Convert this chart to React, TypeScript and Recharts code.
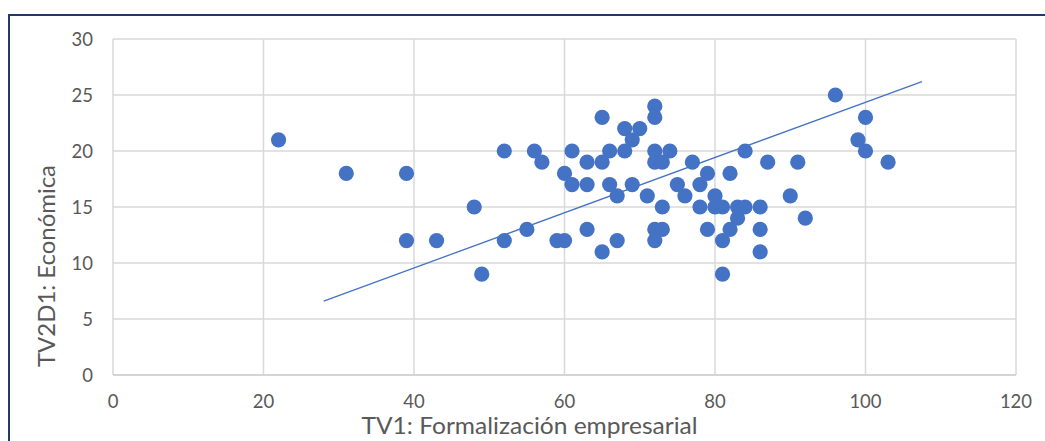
import React from 'react';
import { ScatterChart, Scatter, XAxis, YAxis, CartesianGrid, ReferenceLine, Label } from 'recharts';

// TV1: Formalización empresarial (x) and TV2D1: Económica (y), paired by index
const tv1 = [
  22, 31, 39, 39, 43, 48, 49, 52, 52, 55,
  56, 57, 59, 60, 60, 61, 61, 63, 63, 63,
  65, 65, 65, 66, 66, 67, 67, 68, 68, 69,
  69, 70, 71, 72, 72, 72, 72, 72, 72, 73,
  73, 73, 74, 75, 76, 77, 78, 78, 79, 79,
  80, 80, 81, 81, 81, 82, 82, 83, 83, 84,
  84, 86, 86, 86, 87, 90, 91, 92, 96, 99,
  100, 100, 103,
];
const tv2d1 = [
  21, 18, 18, 12, 12, 15, 9, 20, 12, 13,
  20, 19, 12, 12, 18, 20, 17, 19, 17, 13,
  23, 19, 11, 20, 17, 16, 12, 22, 20, 21,
  17, 22, 16, 24, 23, 20, 19, 13, 12, 19,
  15, 13, 20, 17, 16, 19, 17, 15, 18, 13,
  16, 15, 15, 12, 9, 18, 13, 15, 14, 15,
  20, 15, 13, 11, 19, 16, 19, 14, 25, 21,
  23, 20, 19,
];
const xTicks = [0, 20, 40, 60, 80, 100, 120];
const yTicks = [0, 5, 10, 15, 20, 25, 30];
const trendX = [28, 107.5];
const trendY = [6.6, 26.2];

const xTitle = 'TV1: Formalización empresarial';
const yTitle = 'TV2D1: Económica';

const points = tv1.map((x, i) => ({ x, y: tv2d1[i] }));
const trendSegment = trendX.map((x, i) => ({ x, y: trendY[i] }));

const BLUE = '#4472C4';
const TEXT = '#595959';
const FONT = 'Lato, "Liberation Sans", sans-serif';

const Dot = (props: any) => {
  const { cx, cy } = props;
  if (cx == null || cy == null) return null;
  return <circle cx={cx} cy={cy} r={7.6} fill={BLUE} />;
};

const XTitle = (props: any) => {
  const vb = props.viewBox || {};
  const cx = vb.x + vb.width / 2 - 35;
  const by = vb.y + 59;
  return (
    <text x={cx} y={by} textAnchor="middle" fill={TEXT} fontFamily={FONT} fontSize={24}
      textLength={336} lengthAdjust="spacingAndGlyphs">
      {xTitle}
    </text>
  );
};

const YTitle = (props: any) => {
  const vb = props.viewBox || {};
  const bx = vb.x + 55;
  const cy = vb.y + vb.height / 2 + 59;
  return (
    <text x={bx} y={cy} textAnchor="middle" fill={TEXT} fontFamily={FONT} fontSize={24}
      transform={`rotate(-90, ${bx}, ${cy})`} textLength={202} lengthAdjust="spacingAndGlyphs">
      {yTitle}
    </text>
  );
};

export default function App() {
  return (
    <div style={{ position: 'absolute', left: 0, top: 0, width: 1045, height: 441, background: '#fff', overflow: 'hidden' }}>
      <div style={{ position: 'absolute', left: 8, top: 14, width: 1045, height: 441, borderTop: '2px solid #22386A', borderLeft: '2px solid #22386A', boxSizing: 'border-box' }} />
      <ScatterChart width={1045} height={441} margin={{ top: 39, right: 29, bottom: 0, left: 0 }}
        style={{ position: 'absolute', left: 0, top: 0 }}>
        <CartesianGrid stroke="#D9D9D9" strokeWidth={1.5} />
        <XAxis type="number" dataKey="x" domain={[0, 120]} ticks={xTicks} interval={0}
          height={66} axisLine={{ stroke: '#D0D0D0', strokeWidth: 1.5 }} tickLine={false}
          tickSize={0} tickMargin={20}
          tick={{ fill: TEXT, fontSize: 18.5, fontFamily: FONT }}>
          <Label content={<XTitle />} />
        </XAxis>
        <YAxis type="number" dataKey="y" domain={[0, 30]} ticks={yTicks} interval={0}
          width={113} axisLine={false} tickLine={false} tickSize={0} tickMargin={20}
          tick={{ fill: TEXT, fontSize: 18.5, fontFamily: FONT }}>
          <Label content={<YTitle />} />
        </YAxis>
        <ReferenceLine segment={trendSegment} stroke={BLUE} strokeWidth={1.3} ifOverflow="visible" />
        <Scatter data={points} fill={BLUE} shape={<Dot />} isAnimationActive={false} />
      </ScatterChart>
    </div>
  );
}
